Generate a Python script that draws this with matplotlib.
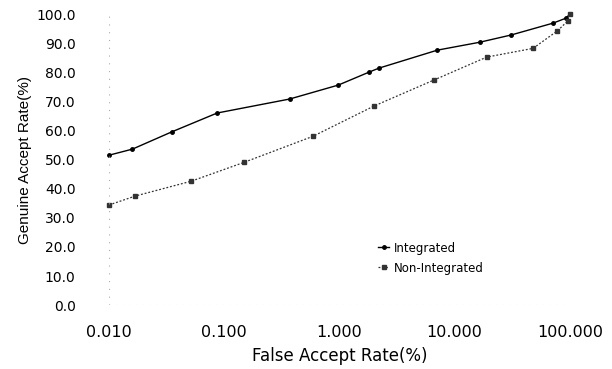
import numpy as np
import matplotlib.pyplot as plt

# false accept rate (%) vs genuine accept rate (%)
far_int = [0.01, 0.016, 0.035, 0.087, 0.37, 0.98, 1.8, 2.2, 7.1, 16.5, 31, 72, 93, 100]
gar_int = [51.5, 53.6, 59.5, 66.0, 70.8, 75.6, 80.0, 81.4, 87.6, 90.3, 92.8, 96.9, 98.6, 100.0]

far_non = [0.01, 0.017, 0.052, 0.15, 0.59, 2.0, 6.6, 19, 48, 78, 96, 100]
gar_non = [34.4, 37.5, 42.6, 49.1, 58.0, 68.4, 77.3, 85.2, 88.2, 94.2, 97.6, 100.0]

xticks = [0.01, 0.1, 1, 10, 100]
xlabels = ['0.010', '0.100', '1.000', '10.000', '100.000']
yticks = np.arange(0, 101, 10)

fig = plt.figure(figsize=(6.12, 3.69), dpi=100)
ax = fig.add_axes([0.178, 0.173, 0.753, 0.789])

ax.plot(far_int, gar_int, color='black', lw=1.0, marker='o', ms=2.5,
        label='Integrated', clip_on=False)
ax.plot(far_non, gar_non, color='#333333', lw=0.9, ls=(0, (1.5, 1.5)), marker='s', ms=2.5,
        label='Non-Integrated', clip_on=False)

ax.set_xscale('log')
ax.set_xlim(0.01, 100)
ax.set_ylim(0, 100)
ax.set_xticks(xticks)
ax.set_xticklabels(xlabels)
ax.minorticks_off()
ax.set_yticks(yticks)
ax.set_yticklabels(['%.1f' % v for v in yticks])

for s in ax.spines.values():
    s.set_visible(False)
# faint dotted axes like the scanned original
ax.axvline(0.01, color='#aaaaaa', lw=0.8, ls=(0, (1, 6)))
ax.axhline(0, color='#bbbbbb', lw=0.8, ls=(0, (1, 5)))
ax.tick_params(length=0)
ax.tick_params(axis='y', pad=24, labelsize=10)
ax.tick_params(axis='x', pad=14, labelsize=11.5)

ax.set_xlabel('False Accept Rate(%)', fontsize=12, labelpad=5)
ax.set_ylabel('Genuine Accept Rate(%)', fontsize=11, family='Liberation Sans', labelpad=3)

ax.legend(loc='upper left', bbox_to_anchor=(0.56, 0.255), frameon=False, fontsize=8.5,
          handlelength=1.0, handletextpad=0.4, labelspacing=0.6)

fig.savefig('out.png', dpi=100)
